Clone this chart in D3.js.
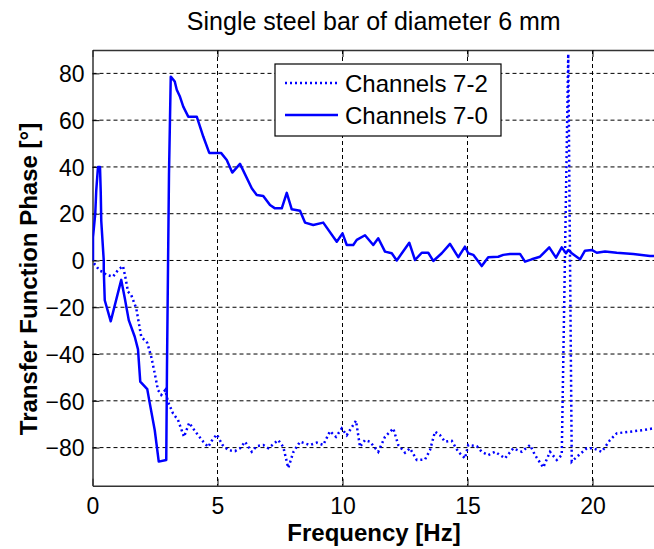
<!DOCTYPE html>
<html><head><meta charset="utf-8">
<script src="https://cdn.jsdelivr.net/npm/d3@7/dist/d3.min.js"></script>
<style>body{margin:0;background:#fff}svg{display:block}text{font-family:Arial,"Liberation Sans",sans-serif}</style>
</head><body>
<svg id="chart" width="654" height="549"></svg>
<script>
const title = "Single steel bar of diameter 6 mm";
const xLabel = "Frequency [Hz]";
const yLabel = "Transfer Function Phase [°]";
const xTicks = [0, 5, 10, 15, 20];
const yTicks = [-80, -60, -40, -20, 0, 20, 40, 60, 80];
const seriesNames = ["Channels 7-2", "Channels 7-0"];

// Channels 7-0 (solid)
const freq70 = [0.02,0.02,0.11,0.15,0.22,0.3,0.33,0.35,0.45,0.45,0.49,0.73,1.15,1.29,1.45,1.69,1.82,1.91,2.19,2.29,2.49,2.65,2.95,2.98,3.02,3.06,3.13,3.29,3.37,3.5,3.63,3.83,4.17,4.43,4.67,5.14,5.37,5.59,5.9,6.37,6.57,6.83,7.1,7.3,7.57,7.77,7.97,8.3,8.5,8.83,9.23,9.77,10.0,10.17,10.43,10.57,10.9,11.23,11.43,11.7,11.97,12.17,12.67,12.9,13.17,13.43,13.63,13.97,14.3,14.63,14.9,15.03,15.23,15.57,15.83,16.23,16.43,16.7,17.1,17.3,17.57,17.9,18.27,18.54,18.77,18.94,19.03,19.17,19.5,19.7,19.97,20.17,20.5,20.97,21.63,22.3,22.5];
const phase70 = [0,10,20,30,40,40,29,17,0,-4,-17,-26,-8.3,-16,-25.5,-32.6,-38,-51.8,-55,-61,-72.6,-86,-85.3,-44.7,-3.3,37.3,78.6,76.5,73,70,65.8,61.5,61.5,53,46,46,43,37.6,41.3,30.9,28,27.6,23.7,22.3,22.3,28.9,21.9,21.3,16.2,15.2,16.2,8,11.6,6.6,6.6,8.8,10.8,6.6,9.5,3.8,3.1,0,7.6,0.2,3.3,3.3,-0.2,3.1,7.1,1.4,5.9,3.1,2.4,-2.4,1.4,1.6,2.4,2.8,2.8,-0.5,0.5,1.6,5.6,1.2,5.6,3.1,4.5,3.1,0.5,4.2,4.5,3.3,3.8,3.3,2.8,1.9,1.9];

// Channels 7-2 (dotted)
const freq72 = [0.06,0.29,0.42,0.55,0.82,1.02,1.22,1.31,1.42,1.55,1.75,1.95,2.19,2.35,2.49,2.62,2.75,2.91,3.02,3.22,3.42,3.66,3.87,4.1,4.43,4.63,4.77,4.97,5.2,5.43,5.7,5.9,6.1,6.37,6.57,6.83,7.03,7.43,7.63,7.83,8.03,8.3,8.7,8.97,9.23,9.5,9.74,9.97,10.17,10.3,10.54,10.7,10.9,11.1,11.43,11.7,12.03,12.23,12.5,12.7,12.97,13.3,13.5,13.7,13.9,14.1,14.37,14.63,14.9,15.03,15.37,15.57,15.83,16.1,16.5,16.83,17.17,17.5,17.7,18.03,18.3,18.57,18.77,19.03,19.17,19.37,19.77,20.03,20.37,20.7,20.97,21.5,22.03,22.43,22.5];
const phase72 = [-1.2,-4.4,-4.8,-6.2,-6.9,-4.1,-2.4,-6.9,-13.3,-14.8,-20.5,-32.6,-35.2,-41.2,-48.3,-55.4,-57.5,-55.4,-60.4,-65.4,-68.2,-75.4,-69.4,-73,-77.5,-79.7,-77.1,-74.4,-78.9,-81.1,-81.5,-80.3,-77.5,-81.8,-79.4,-78.9,-80.3,-76.8,-79.7,-88.7,-82,-77.5,-78.9,-77.9,-78.9,-73,-75.4,-71.8,-74.7,-72.5,-68.5,-79.7,-76.8,-77.5,-81.8,-75.4,-71.8,-78.9,-82.2,-80.3,-85.3,-85.1,-81.1,-73.2,-74.7,-77.5,-77.1,-81.8,-84.6,-78.9,-79.4,-81.8,-83.2,-81.8,-84.6,-80.3,-81.8,-78.9,-83.2,-88.5,-81.8,-85.3,-83.2,88.3,-86,-84,-80.3,-80.3,-81.8,-76.8,-73.9,-73.2,-72.5,-71.8,-71.8];

const svg = d3.select("#chart");
const L = 92.5, R = 655, T = 50, B = 485.7;
const x = d3.scaleLinear().domain([0, 22.5]).range([L, R]);
const y = d3.scaleLinear().domain([-96.3, 90]).range([B, T]);
const blue = "#0000ff";

svg.append("defs").append("clipPath").attr("id","clip")
  .append("rect").attr("x",L).attr("y",T).attr("width",R-L).attr("height",B-T);

// grid
const grid = svg.append("g");
xTicks.filter(d=>d>0).forEach(d=>{
  grid.append("line").attr("x1",x(d)).attr("x2",x(d)).attr("y1",T).attr("y2",B)
    .attr("stroke","#000").attr("stroke-width",1).attr("stroke-dasharray","4,3");
});
yTicks.forEach(d=>{
  grid.append("line").attr("x1",L).attr("x2",R).attr("y1",y(d)).attr("y2",y(d))
    .attr("stroke","#000").attr("stroke-width",1).attr("stroke-dasharray","4,3");
});

// axes
const xAxisB = d3.axisBottom(x).tickValues(xTicks).tickSizeInner(-7).tickSizeOuter(0).tickPadding(12).tickFormat(d3.format("d"));
const xAxisT = d3.axisTop(x).tickValues(xTicks).tickSizeInner(-7).tickSizeOuter(0).tickFormat("");
const yAxisL = d3.axisLeft(y).tickValues(yTicks).tickSizeInner(-7).tickSizeOuter(0).tickPadding(8).tickFormat(d3.format("d"));
const gB = svg.append("g").attr("transform",`translate(0,${B})`).call(xAxisB);
const gT = svg.append("g").attr("transform",`translate(0,${T})`).call(xAxisT);
const gL = svg.append("g").attr("transform",`translate(${L},0)`).call(yAxisL);
[gB,gT,gL].forEach(g=>{
  g.select(".domain").attr("stroke","#333").attr("stroke-width",1.5);
  g.selectAll(".tick line").attr("stroke","#000").attr("stroke-width",1);
  g.selectAll("text").attr("font-size",23).attr("fill","#000").style("font-family","Arial, 'Liberation Sans', sans-serif");
});
gB.selectAll("text").attr("dy","0.71em");
gL.selectAll("text").attr("dy","0.36em");

// lines
const line = d3.line().x(d=>x(d[0])).y(d=>y(d[1]));
const plot = svg.append("g").attr("clip-path","url(#clip)");
plot.append("path").datum(d3.zip(freq72, phase72)).attr("d",line)
  .attr("fill","none").attr("stroke",blue).attr("stroke-width",2.5).attr("stroke-dasharray","2,3");
plot.append("path").datum(d3.zip(freq70, phase70)).attr("d",line)
  .attr("fill","none").attr("stroke",blue).attr("stroke-width",2.5).attr("stroke-linejoin","round");

// title and labels
svg.append("text").attr("x",(L+R)/2).attr("y",30).attr("text-anchor","middle")
  .attr("font-size",25).text(title);
svg.append("text").attr("x",374).attr("y",541).attr("text-anchor","middle")
  .attr("font-size",24).attr("font-weight","bold").text(xLabel);
svg.append("text").attr("transform",`translate(37,279) rotate(-90)`).attr("text-anchor","middle")
  .attr("font-size",24).attr("font-weight","bold").text(yLabel);

// legend
const lg = svg.append("g");
lg.append("rect").attr("x",275).attr("y",64).attr("width",226).attr("height",72)
  .attr("fill","#fff").attr("stroke","#000").attr("stroke-width",1.2);
const items = [{name:seriesNames[0], dash:"2,3"},{name:seriesNames[1], dash:null}];
items.forEach((it,i)=>{
  const yy = 83 + i*32;
  lg.append("line").attr("x1",285).attr("x2",338).attr("y1",yy).attr("y2",yy)
    .attr("stroke",blue).attr("stroke-width",2.5).attr("stroke-dasharray",it.dash);
  lg.append("text").attr("x",345).attr("y",yy).attr("dy","0.36em").attr("font-size",24).text(it.name);
});
</script>
</body></html>
